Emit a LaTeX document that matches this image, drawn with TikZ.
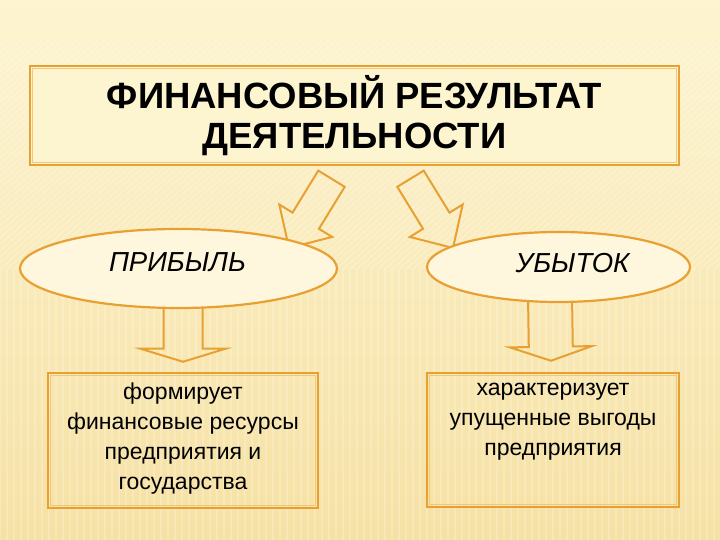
\documentclass[tikz,border=0pt]{standalone}
\usepackage{fontspec}
\setmainfont{Liberation Sans}
\usetikzlibrary{shapes.geometric,calc}

\definecolor{slideorange}{RGB}{232,160,50}
\definecolor{paleorange}{RGB}{242,200,120}
\definecolor{creamtop}{RGB}{253,244,208}
\definecolor{creambottom}{RGB}{246,225,164}
\definecolor{ovalfill}{RGB}{254,247,222}

\pgfdeclarelayer{paper}
\pgfdeclarelayer{arrows}
\pgfsetlayers{paper,arrows,main}

\tikzset{
  framebox/.style={draw=slideorange, line width=2.5pt, inner sep=0pt},
  innerframe/.style={draw=paleorange, line width=0.8pt},
  oval/.style={ellipse, draw=slideorange, line width=2.2pt, fill=ovalfill, inner sep=0pt},
  ovaltext/.style={inner sep=0pt, font=\itshape\fontsize{27.5}{30}\selectfont},
  boxtext/.style={inner sep=0pt, align=center, font=\fontsize{23}{30}\selectfont},
  fatline/.style={draw=slideorange, line width=2pt, line join=miter},
  stripe/.style={white, line width=2pt, opacity=0.22},
}

% block arrow: tail, tip, half shaft, half head, head length
\newcommand{\fatarrow}[5]{%
  \path ($(#2)!#5!(#1)$) coordinate (fa-base);
  \draw[fatline]
     ($(#1)!#3!90:(#2)$)
  -- ($(fa-base)!#3!90:(#2)$)
  -- ($(fa-base)!#4!90:(#2)$)
  -- (#2)
  -- ($(fa-base)!#4!-90:(#2)$)
  -- ($(fa-base)!#3!-90:(#2)$)
  -- ($(#1)!#3!-90:(#2)$)
  -- cycle;
}

\begin{document}
\begin{tikzpicture}[x=1pt, y=1pt]
  \useasboundingbox (0,0) rectangle (720,540);
  \begin{pgfonlayer}{paper}
    \shade[top color=creamtop, bottom color=creambottom] (0,0) rectangle (720,540);
    % texture
    \begin{scope}
      \clip (0,270) rectangle (720,500);
      \foreach \s in {0,7,...,980}
        \draw[stripe] (\s-260,270) -- (\s,500);
    \end{scope}
    \begin{scope}
      \clip (0,0) rectangle (720,270);
      \foreach \s in {0,7,...,720}
        \draw[stripe] (\s,0) -- (\s,270);
    \end{scope}
  \end{pgfonlayer}

  % Title
  \node[framebox, fill=creamtop, minimum width=649pt, minimum height=99pt,
        align=center, font=\bfseries\fontsize{36.5}{40}\selectfont]
    (title) at (354.5,424.5) {ФИНАНСОВЫЙ РЕЗУЛЬТАТ\\ДЕЯТЕЛЬНОСТИ};

  % Ovals
  \node[oval, minimum width=317pt, minimum height=79pt] (profit) at (178.5,271.5) {};
  \node[ovaltext] (profit-text) at ([xshift=-1pt,yshift=6.5pt]profit.center) {ПРИБЫЛЬ};
  \node[oval, minimum width=263pt, minimum height=70pt] (loss) at (558.5,273) {};
  \node[ovaltext] (loss-text) at ([xshift=14pt,yshift=4pt]loss.center) {УБЫТОК};

  % Boxes
  \node[framebox, minimum width=270pt, minimum height=135pt] (gain) at (183,99.5) {};
  \node[boxtext, anchor=north] (gain-text) at ([yshift=-11pt]gain.north)
    {формирует\\финансовые ресурсы\\предприятия и\\государства};
  \node[framebox, minimum width=252pt, minimum height=134pt] (lossbox) at (553,100) {};
  \node[boxtext, anchor=north] (lossbox-text) at ([yshift=-11pt]lossbox.north)
    {характеризует\\упущенные выгоды\\предприятия};

  \foreach \b in {title,gain,lossbox}
    \draw[innerframe] ([shift={(4pt,-4pt)}]\b.north west) rectangle ([shift={(-4pt,4pt)}]\b.south east);

  % Arrows
  \coordinate (title-l) at ([xshift=-23pt,yshift=-12.5pt]title.south);
  \coordinate (title-r) at ([xshift=56pt,yshift=-12.5pt]title.south);
  \coordinate (profit-in) at ([xshift=110.5pt,yshift=20.5pt]profit.center);
  \coordinate (loss-in) at ([xshift=-105.5pt,yshift=19pt]loss.center);
  \coordinate (profit-out) at ([xshift=4.5pt,yshift=8pt]profit.south);
  \coordinate (loss-out) at ([xshift=-8.5pt,yshift=8pt]loss.south);
  \coordinate (gain-in) at ([yshift=10pt]gain.north);
  \coordinate (lossbox-in) at ([xshift=-2pt,yshift=11pt]lossbox.north);
  \begin{pgfonlayer}{arrows}
    \fatarrow{title-l}{profit-in}{15.5pt}{31pt}{32pt}
    \fatarrow{title-r}{loss-in}{15.5pt}{31pt}{32pt}
    \fatarrow{profit-out}{gain-in}{19.5pt}{42.5pt}{13pt}
    \fatarrow{loss-out}{lossbox-in}{22pt}{41pt}{14pt}
  \end{pgfonlayer}
\end{tikzpicture}
\end{document}
